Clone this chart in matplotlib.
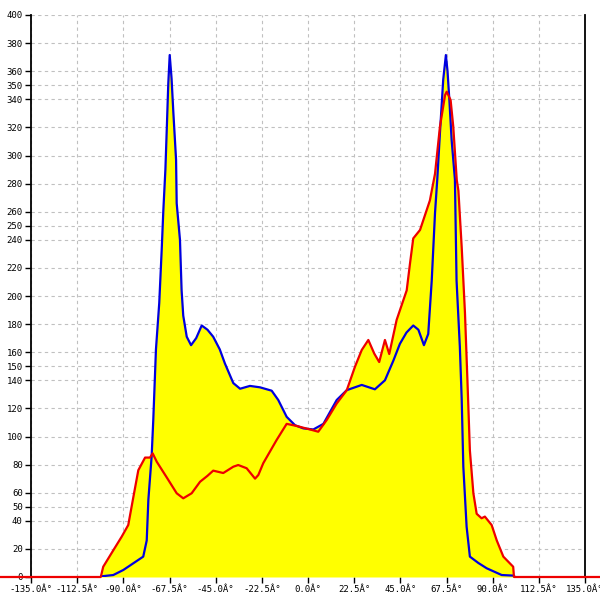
import numpy as np
import matplotlib.pyplot as plt

# blue series (angle in degrees, count)
blue_angle = [-100.6, -94.9, -90.0, -80.3, -78.6, -77.8, -76.2, -75.4, -74.1, -72.5,
              -71.3, -70.5, -69.5, -68.8, -68.1, -67.4, -66.5, -65.6, -64.3, -64.0,
              -62.4, -61.6, -60.8, -59.1, -57.0, -54.5, -51.8, -49.0, -46.2, -43.0,
              -40.5, -36.4, -33.1, -28.3, -23.4, -17.7, -14.5, -10.4, -6.3, -2.3,
              2.6, 7.5, 14.0, 18.9, 26.2, 32.6, 37.5, 41.6, 44.8, 48.0,
              51.3, 53.8, 56.5, 58.6, 60.3, 61.9, 63.0, 64.3, 65.9, 67.2,
              68.0, 68.9, 70.0, 71.6, 72.4, 74.0, 74.9, 75.7, 77.3, 78.9,
              83.0, 87.1, 94.4, 100.0, 101.0]
blue_count = [0.5, 1.4, 5, 14.5, 26, 55, 86, 112, 162, 195,
              233, 261, 290, 320, 351, 371.5, 355, 330, 297, 266,
              240, 204, 186, 171, 165, 170, 179, 176, 171, 162,
              152, 138, 134, 136, 135, 132.6, 126, 114, 108, 105.8,
              105, 109, 126, 133, 136.7, 133.6, 140, 154, 166, 174,
              179, 176, 165, 173, 211, 259, 283, 316, 354, 371.5,
              360, 339.5, 311, 283, 211, 164, 127, 78.5, 35.8, 14.5,
              10, 6.2, 1.4, 1, 0]

# red series (angle in degrees, count)
red_angle = [-150.0, -101.0, -99.8, -94.9, -90.8, -87.6, -85.1, -82.7, -79.4, -77.0,
             -75.7, -73.7, -68.9, -64.0, -60.8, -56.7, -52.6, -49.0, -46.2, -41.3,
             -36.4, -34.0, -29.9, -25.8, -24.2, -21.8, -15.3, -10.4, -5.5, 1.0,
             5.0, 9.1, 14.0, 18.9, 22.9, 26.2, 29.4, 32.3, 34.7, 37.5,
             39.6, 43.2, 48.1, 49.7, 51.3, 54.6, 59.4, 61.9, 64.3, 66.8,
             67.6, 69.5, 70.8, 72.5, 73.3, 74.9, 76.5, 77.7, 78.9, 80.6,
             82.2, 84.6, 86.2, 89.5, 92.0, 95.2, 98.4, 100.0, 100.4, 145.0]
red_count = [0, 0, 7.3, 19, 28.7, 37, 57, 76, 85, 85,
             88, 82, 71, 59.6, 56, 59.6, 67.8, 72, 75.7, 74,
             78.5, 79.7, 77.4, 70, 72.6, 81, 97.5, 109, 107.5, 105,
             103.4, 111.7, 123.5, 133, 149.7, 161.6, 168.7, 159, 153, 168.7,
             158.7, 183, 204, 223, 241, 247, 268, 287, 320.5, 343,
             345.4, 339.5, 320.5, 282.6, 275, 235, 188, 140, 90, 59.6,
             45, 41.8, 43, 37, 26, 14.5, 9.7, 7.3, 0, 0]

x_ticks = np.arange(-135, 135.1, 22.5)
y_ticks = [0, 20, 40, 50, 60, 80, 100, 120, 140, 150, 160, 180, 200, 220,
           240, 250, 260, 280, 300, 320, 340, 350, 360, 380, 400]

fig = plt.figure(figsize=(6, 6), dpi=100)
ax = fig.add_axes([31 / 600, 23 / 600, 554 / 600, 562 / 600])

# yellow area under both curves
ax.fill_between(blue_angle, blue_count, 0, color="#ffff00", linewidth=0, zorder=2)
ax.fill_between(red_angle, red_count, 0, color="#ffff00", linewidth=0, zorder=2)

ax.plot(blue_angle, blue_count, color="#0000e0", linewidth=1.6, zorder=3)
ax.plot(red_angle, red_count, color="#ee0000", linewidth=1.6, zorder=4, clip_on=False)

ax.set_xlim(-135, 135)
ax.set_ylim(0, 400)

ax.set_xticks(x_ticks)
ax.set_xticklabels([f"{v:.1f}Â°" for v in x_ticks])
ax.set_yticks(y_ticks)
ax.set_yticklabels([str(v) for v in y_ticks])

ax.grid(True, color="#c0c0c0", linestyle=(0, (3, 3)), linewidth=0.8, zorder=1)
ax.set_axisbelow(True)

for s in ["top", "bottom"]:
    ax.spines[s].set_visible(False)
for s in ["left", "right"]:
    ax.spines[s].set_color("black")
    ax.spines[s].set_linewidth(1.3)

ax.tick_params(axis="both", direction="out", length=4, width=1, color="black",
               labelsize=6.5, pad=2)
for lab in ax.get_xticklabels() + ax.get_yticklabels():
    lab.set_family("DejaVu Sans Mono")

fig.savefig("out.png", dpi=100)
